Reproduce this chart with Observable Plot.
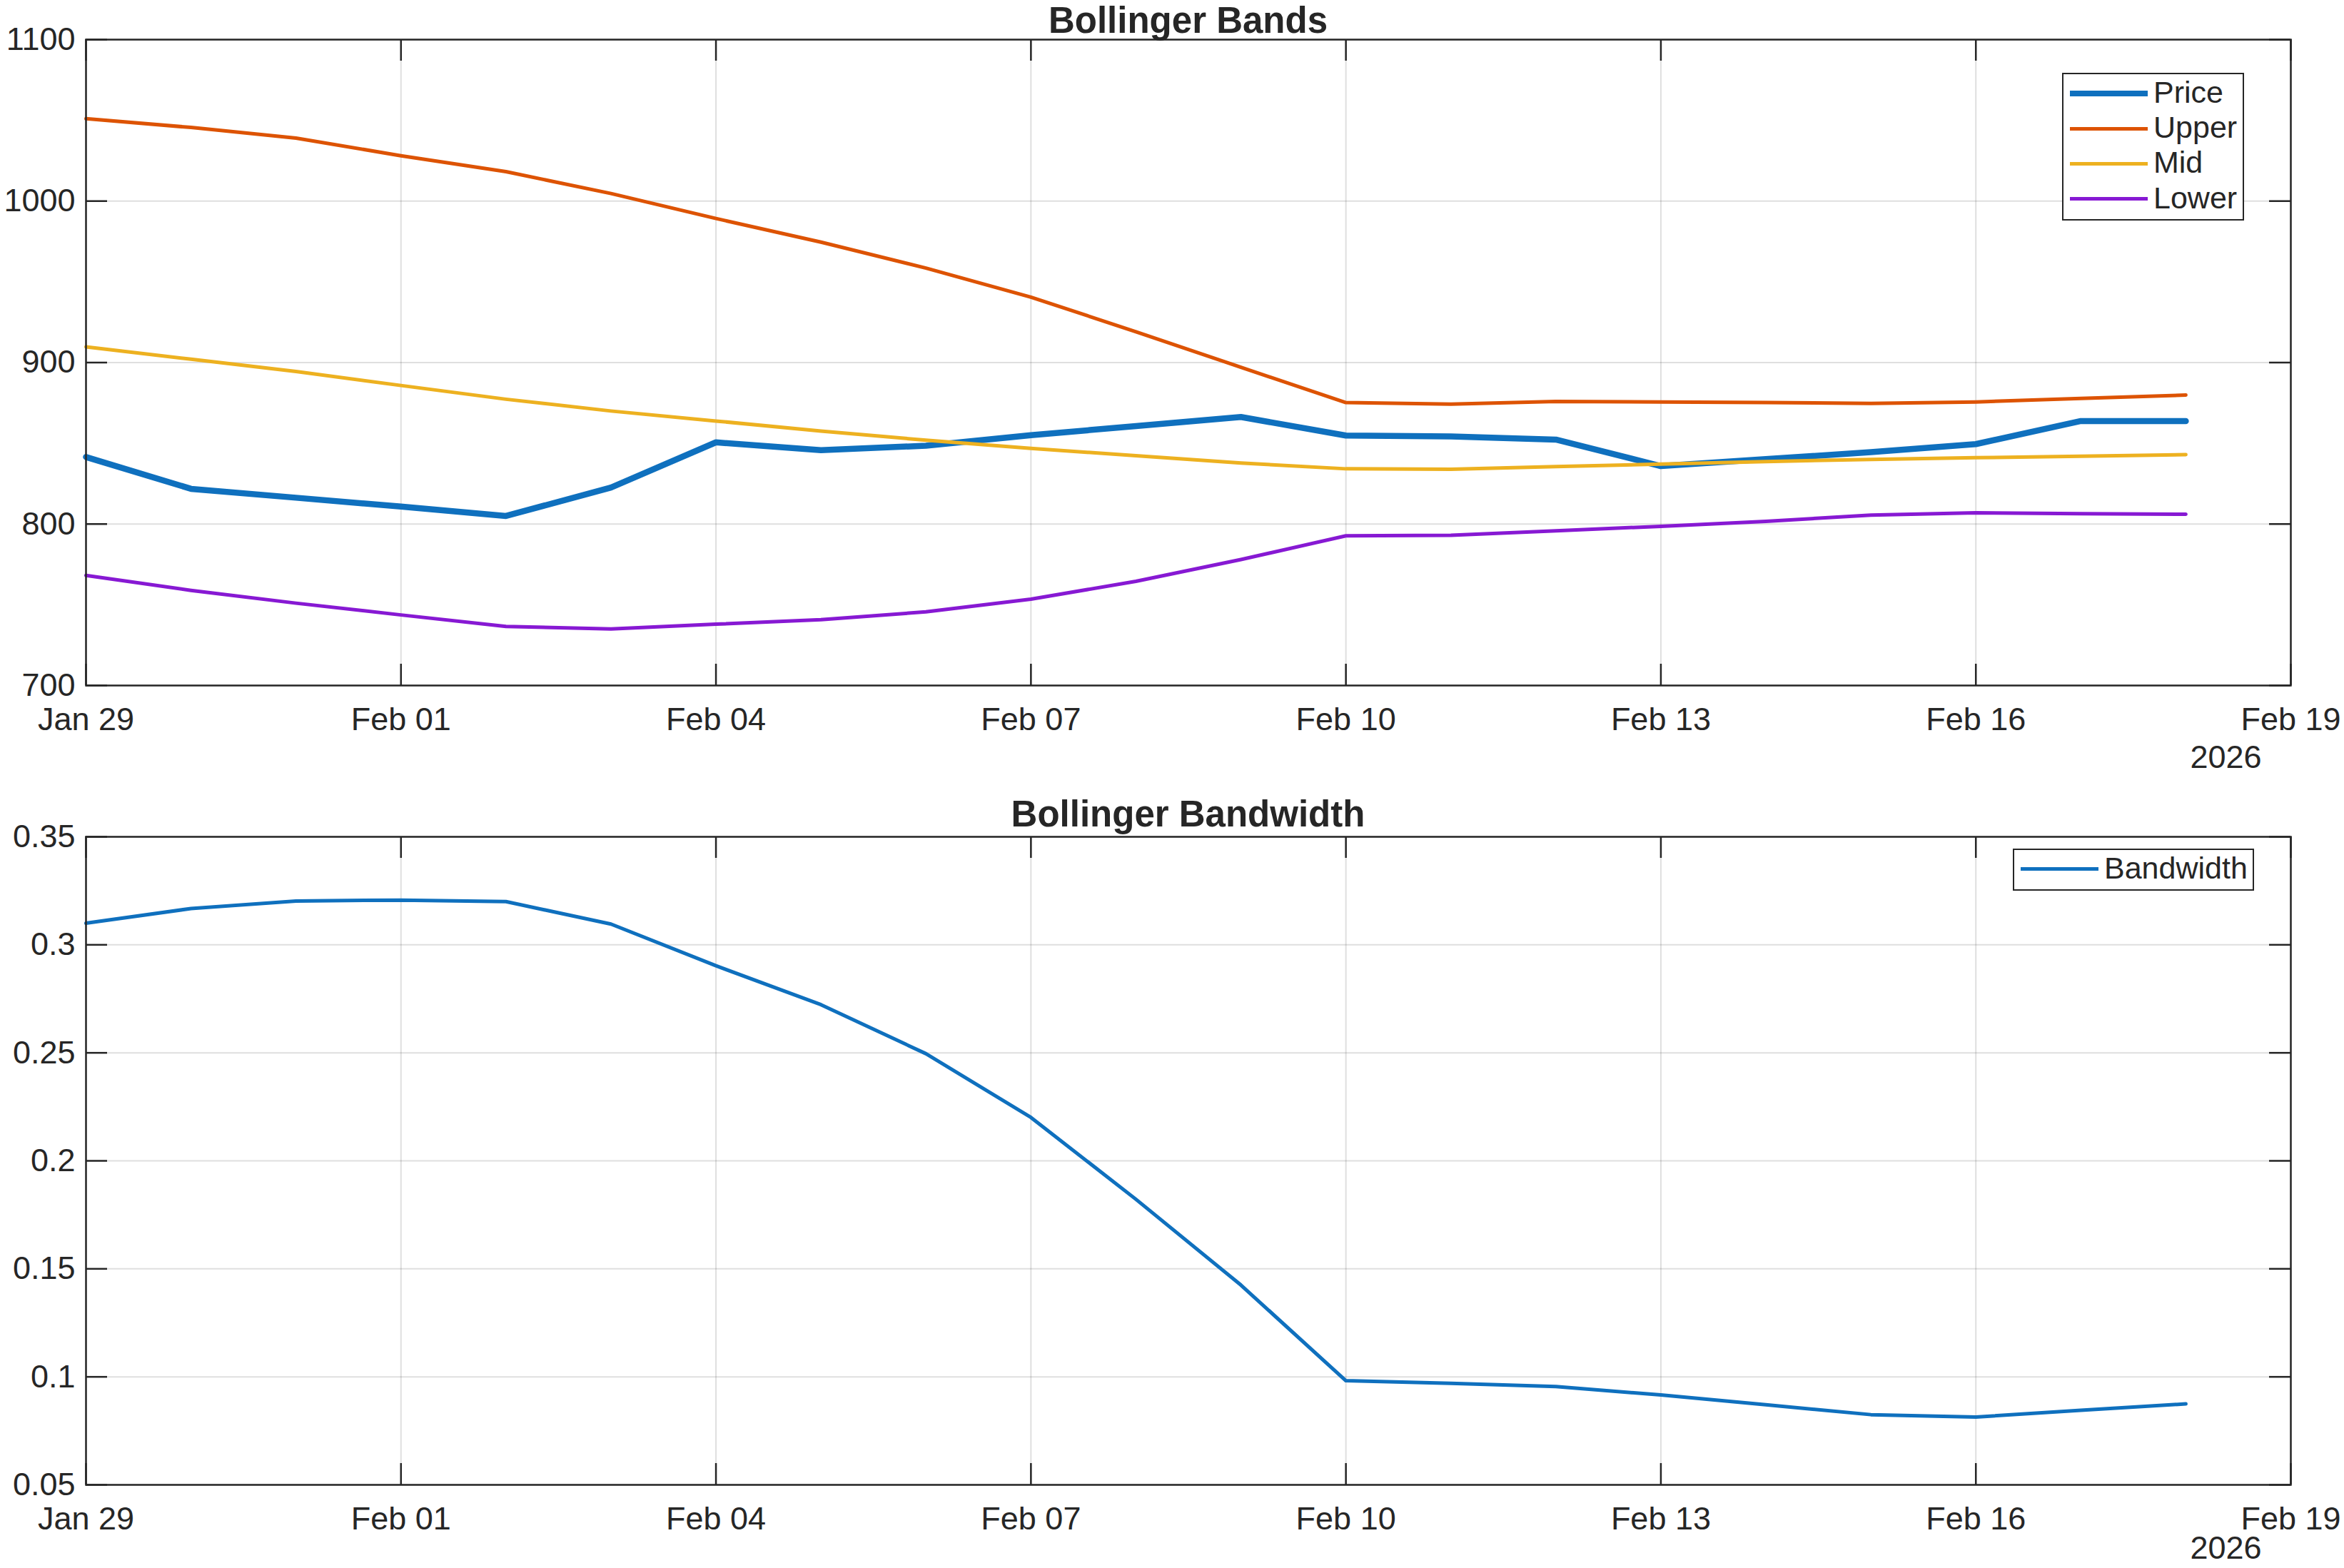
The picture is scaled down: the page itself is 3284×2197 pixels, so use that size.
<!DOCTYPE html>
<html>
<head>
<meta charset="utf-8">
<script src="https://cdn.jsdelivr.net/npm/d3@7"></script>
<script src="https://cdn.jsdelivr.net/npm/@observablehq/plot@0.6"></script>
<style>
  html, body { margin: 0; padding: 0; background: #fff; }
  #page { position: relative; width: 3284px; height: 2197px; overflow: hidden;
          font-family: "Liberation Sans", Arial, Helvetica, sans-serif; color: #262626; }
  .panel { position: absolute; left: 0; width: 3284px; }
  .title { position: absolute; left: 120px; width: 3089px; text-align: center;
           font-weight: bold; font-size: 51px; line-height: 57px; color: #262626; }
  .legend { position: absolute; box-sizing: border-box; border: 2.5px solid #262626; background: #fff; }
  .legend .swatch { position: absolute; left: 8.5px; width: 109px; }
  .legend .name { position: absolute; left: 126px; font-size: 43px; line-height: 43px; white-space: nowrap; color: #262626; }
</style>
</head>
<body>
<div id="page"></div>
<script>
// Daily observations
const dates = [
  "2026-01-29", "2026-01-30", "2026-01-31", "2026-02-01", "2026-02-02", "2026-02-03", "2026-02-04",
  "2026-02-05", "2026-02-06", "2026-02-07", "2026-02-08", "2026-02-09", "2026-02-10", "2026-02-11",
  "2026-02-12", "2026-02-13", "2026-02-14", "2026-02-15", "2026-02-16", "2026-02-17", "2026-02-18"
];
const price = [841.5, 821.8, 816.3, 810.8, 805.0, 822.6, 850.6, 845.7, 848.5, 855.0, 860.7,
               866.3, 854.8, 854.2, 852.3, 835.9, 840.2, 844.5, 849.5, 863.8, 863.8];
const upper = [1051.0, 1045.6, 1039.0, 1028.1, 1018.2, 1004.7, 989.2, 974.6, 958.5, 940.5, 919.1,
               897.1, 875.2, 874.3, 875.9, 875.6, 875.3, 874.7, 875.6, 877.8, 879.9];
const mid   = [909.7, 902.1, 894.5, 885.8, 877.3, 870.0, 863.8, 857.6, 851.9, 846.9, 842.3,
               837.8, 834.2, 833.9, 835.6, 837.1, 838.7, 840.0, 841.1, 842.0, 843.0];
const lower = [768.2, 758.9, 751.0, 743.7, 736.6, 735.0, 738.0, 740.8, 745.6, 753.5, 764.5,
               778.0, 792.7, 793.0, 795.8, 798.6, 801.7, 805.5, 807.0, 806.4, 806.1];
const bandwidth = [0.3100, 0.3168, 0.3203, 0.3207, 0.3200, 0.3096, 0.2903, 0.2723, 0.2496, 0.2201, 0.1822,
                   0.1425, 0.0982, 0.0970, 0.0955, 0.0916, 0.0871, 0.0825, 0.0814, 0.0845, 0.0875];

// Axis ticks
const xTickDates = ["2026-01-29", "2026-02-01", "2026-02-04", "2026-02-07", "2026-02-10", "2026-02-13", "2026-02-16", "2026-02-19"];
const bandTicks = [700, 800, 900, 1000, 1100];
const widthTicks = [0.05, 0.1, 0.15, 0.2, 0.25, 0.3, 0.35];
const yearLabel = "2026";

// Series names and colours
const bandSeries = [
  {key: "price", name: "Price", color: "#0F70BE", width: 8.5},
  {key: "upper", name: "Upper", color: "#DD5303", width: 5},
  {key: "mid",   name: "Mid",   color: "#EDB120", width: 5},
  {key: "lower", name: "Lower", color: "#8719D3", width: 5}
];
const widthSeries = [{key: "bandwidth", name: "Bandwidth", color: "#0F70BE", width: 5}];

const parse = d3.utcParse("%Y-%m-%d");
const rows = dates.map((d, i) => ({
  date: parse(d), price: price[i], upper: upper[i], mid: mid[i], lower: lower[i], bandwidth: bandwidth[i]
}));
const xTicks = xTickDates.map(parse);
const xDomain = [xTicks[0], xTicks[xTicks.length - 1]];

const W = 3284, ML = 120, MR = 75;
const ink = "#262626";
const tickFont = 45;

function panel({top, height, marginTop, marginBottom, title, titleTop, yDomain, yTicks, series, legend, yearDy}) {
  const frameW = W - ML - MR;
  const frameH = height - marginTop - marginBottom;
  const tickLen = 30;
  const fmt = d => `${+d.toFixed(2)}`;
  const chart = Plot.plot({
    width: W, height, marginTop, marginBottom, marginLeft: ML, marginRight: MR,
    style: {fontFamily: "'Liberation Sans', Arial, Helvetica, sans-serif", fontSize: `${tickFont}px`, color: ink, background: "transparent", overflow: "visible"},
    x: {type: "utc", domain: xDomain},
    y: {domain: yDomain},
    marks: [
      Plot.gridX(xTicks, {stroke: ink, strokeOpacity: 0.15, strokeWidth: 2}),
      Plot.gridY(yTicks, {stroke: ink, strokeOpacity: 0.15, strokeWidth: 2}),
      Plot.axisX(xTicks, {tickSize: 0, tickPadding: 31, tickFormat: "%b %d", label: null, fontSize: tickFont}),
      Plot.axisY(yTicks, {tickSize: 0, tickPadding: 15, tickFormat: fmt, label: null, fontSize: tickFont}),
      ...series.map(s => Plot.lineY(rows, {x: "date", y: s.key, stroke: s.color, strokeWidth: s.width, strokeLinejoin: "round"})),
      // inward ticks on all four sides of the box
      Plot.tickX(xTicks, {x: d => d, stroke: ink, strokeWidth: 2.5, insetTop: frameH - tickLen}),
      Plot.tickX(xTicks, {x: d => d, stroke: ink, strokeWidth: 2.5, insetBottom: frameH - tickLen}),
      Plot.tickY(yTicks, {y: d => d, stroke: ink, strokeWidth: 2.5, insetRight: frameW - tickLen}),
      Plot.tickY(yTicks, {y: d => d, stroke: ink, strokeWidth: 2.5, insetLeft: frameW - tickLen}),
      Plot.frame({stroke: ink, strokeWidth: 2.5}),
      Plot.text([yearLabel], {frameAnchor: "bottom-right", dx: -41, dy: yearDy, lineAnchor: "top", textAnchor: "end", fontSize: tickFont, fill: ink})
    ]
  });

  const page = document.getElementById("page");
  const wrap = document.createElement("div");
  wrap.className = "panel";
  wrap.style.top = top + "px";
  wrap.style.height = height + "px";
  wrap.appendChild(chart);
  page.appendChild(wrap);

  const t = document.createElement("div");
  t.className = "title";
  t.style.top = titleTop + "px";
  t.textContent = title;
  page.appendChild(t);

  const lg = document.createElement("div");
  lg.className = "legend";
  lg.style.left = legend.left + "px";
  lg.style.top = legend.top + "px";
  lg.style.width = legend.width + "px";
  lg.style.height = legend.height + "px";
  series.forEach((s, i) => {
    const cy = legend.firstRow + i * legend.rowStep;
    const sw = document.createElement("div");
    sw.className = "swatch";
    sw.style.top = (cy - s.width / 2) + "px";
    sw.style.height = s.width + "px";
    sw.style.background = s.color;
    lg.appendChild(sw);
    const nm = document.createElement("div");
    nm.className = "name";
    nm.style.top = (cy - 23) + "px";
    nm.textContent = s.name;
    lg.appendChild(nm);
  });
  page.appendChild(lg);
}

panel({
  top: 0, height: 1100, marginTop: 55, marginBottom: 140,
  title: "Bollinger Bands", titleTop: 0, yearDy: 84,
  yDomain: [700, 1100], yTicks: bandTicks, series: bandSeries,
  legend: {left: 2889, top: 102, width: 255, height: 207, firstRow: 26.8, rowStep: 49.3}
});

panel({
  top: 1100, height: 1097, marginTop: 72, marginBottom: 117,
  title: "Bollinger Bandwidth", titleTop: 1112, yearDy: 72,
  yDomain: [0.05, 0.35], yTicks: widthTicks, series: widthSeries,
  legend: {left: 2820, top: 1189, width: 338, height: 59, firstRow: 26.5, rowStep: 0}
});
</script>
</body>
</html>
